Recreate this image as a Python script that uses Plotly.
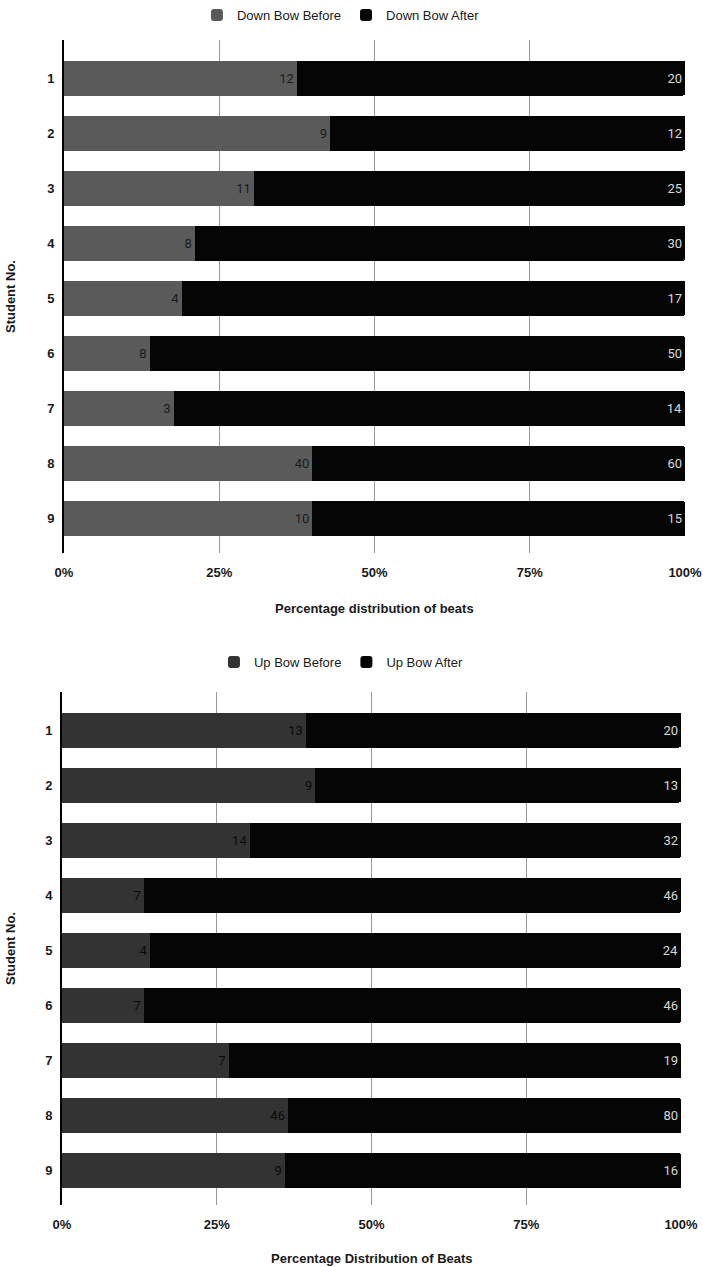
import plotly.graph_objects as go

students = ["1", "2", "3", "4", "5", "6", "7", "8", "9"]
down_before = [12, 9, 11, 8, 4, 8, 3, 40, 10]
down_after = [20, 12, 25, 30, 17, 50, 14, 60, 15]
up_before = [13, 9, 14, 7, 4, 7, 7, 46, 9]
up_after = [20, 13, 32, 46, 24, 46, 19, 80, 16]
x_ticks = [0, 25, 50, 75, 100]
x_tick_text = ["0%", "25%", "50%", "75%", "100%"]

W, H = 703, 1267
def py(px):
    return 1 - px / H

fig = go.Figure()

def add_pair(before, after, names, colors, before_txt, xa, ya, legend):
    fig.add_trace(go.Bar(
        y=students, x=before, orientation="h", name=names[0],
        marker=dict(color=colors[0], line=dict(width=0)),
        text=before, texttemplate="%{text}", textposition="inside",
        insidetextanchor="end", textangle=0,
        insidetextfont=dict(family="Roboto", size=13, color=before_txt),
        xaxis=xa, yaxis=ya, legend=legend, hoverinfo="skip"))
    fig.add_trace(go.Bar(
        y=students, x=after, orientation="h", name=names[1],
        marker=dict(color=colors[1], line=dict(width=0)),
        text=after, texttemplate="%{text}", textposition="inside",
        insidetextanchor="end", textangle=0,
        insidetextfont=dict(family="Roboto", size=13, color="#d8d8d8"),
        xaxis=xa, yaxis=ya, legend=legend, hoverinfo="skip"))

add_pair(down_before, down_after, ["Down Bow Before", "Down Bow After"],
         ["#5a5a5a", "#050505"], "#1a1a1a", "x", "y", "legend")
add_pair(up_before, up_after, ["Up Bow Before", "Up Bow After"],
         ["#333333", "#050505"], "#0a0a0a", "x2", "y2", "legend2")

FONT = "Liberation Sans"
tick_font = dict(family=FONT, size=13, color="#1a1a1a", weight="bold")
title_font = dict(family=FONT, size=13, color="#1a1a1a", weight="bold")
legend_font = dict(family=FONT, size=13, color="#1a1a1a")

xcommon = dict(range=[0, 100], tickvals=x_ticks, ticktext=x_tick_text,
               showgrid=True, gridcolor="#9a9a9a", gridwidth=1,
               zeroline=False, showline=False, ticks="", automargin=False,
               tickfont=tick_font, ticklabelstandoff=10, fixedrange=True)
ycommon = dict(type="category", range=[8.62, -0.69], showgrid=False,
               zeroline=False, showline=True, linecolor="#000000", linewidth=2,
               ticks="", automargin=False, tickfont=tick_font,
               ticklabelstandoff=5, fixedrange=True)

fig.update_layout(
    width=W, height=H,
    margin=dict(l=0, r=0, t=0, b=0),
    paper_bgcolor="white", plot_bgcolor="white",
    barmode="stack", barnorm="percent", bargap=0.365,
    barcornerradius=2,
    showlegend=True,
    xaxis=dict(domain=[64 / W, 685 / W], anchor="y", **xcommon),
    yaxis=dict(domain=[py(553), py(40)], anchor="x", **ycommon),
    xaxis2=dict(domain=[62 / W, 681 / W], anchor="y2", **xcommon),
    yaxis2=dict(domain=[py(1205), py(692)], anchor="x2", **ycommon),
    legend=dict(orientation="h", traceorder="normal", x=0.485,
                xanchor="center", y=1, yanchor="top", font=legend_font,
                bgcolor="rgba(0,0,0,0)"),
    legend2=dict(orientation="h", traceorder="normal", x=0.485,
                 xanchor="center", y=py(662), yanchor="middle",
                 font=legend_font, bgcolor="rgba(0,0,0,0)"),
    annotations=[
        dict(text="Percentage distribution of beats", x=(64 + 685) / 2 / W,
             y=py(608), xref="paper", yref="paper", showarrow=False,
             xanchor="center", yanchor="middle", font=title_font),
        dict(text="Percentage Distribution of Beats", x=(62 + 681) / 2 / W,
             y=py(1258), xref="paper", yref="paper", showarrow=False,
             xanchor="center", yanchor="middle", font=title_font),
        dict(text="Student No.", x=10 / W, y=py(297), xref="paper",
             yref="paper", showarrow=False, textangle=-90,
             xanchor="center", yanchor="middle", font=title_font),
        dict(text="Student No.", x=10 / W, y=py(949), xref="paper",
             yref="paper", showarrow=False, textangle=-90,
             xanchor="center", yanchor="middle", font=title_font),
    ],
)

fig.write_html("out.html")
